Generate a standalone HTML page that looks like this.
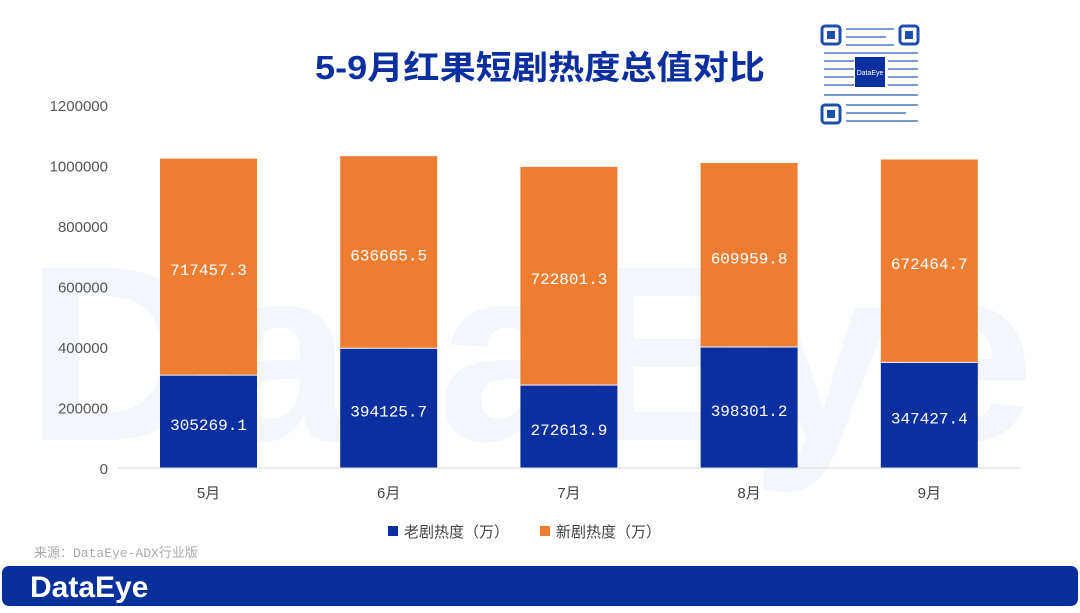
<!DOCTYPE html>
<html><head><meta charset="utf-8"><style>
body{margin:0;width:1080px;height:608px;background:#fff;overflow:hidden;font-family:"Liberation Sans","Noto Sans CJK SC",sans-serif;}
</style></head><body>
<svg id="chart" width="1080" height="608" xmlns="http://www.w3.org/2000/svg">
<text x="530" y="440" text-anchor="middle" font-size="250" font-weight="bold" fill="#f3f6fb" font-family="Liberation Sans, sans-serif" textLength="1010" lengthAdjust="spacingAndGlyphs">DataEye</text>
<text x="540" y="79" text-anchor="middle" font-size="33" font-weight="bold" fill="#0b2f9e" font-family="Liberation Sans, Noto Sans CJK SC, sans-serif" textLength="450" lengthAdjust="spacingAndGlyphs">5-9月红果短剧热度总值对比</text>
<g>
<rect x="819" y="23" width="102" height="103" fill="#fff"/>
<rect x="822" y="26" width="18" height="18" fill="none" stroke="#1e4fa8" stroke-width="3" rx="3"/><rect x="827" y="31" width="8" height="8" fill="#1e4fa8"/>
<rect x="900" y="26" width="18" height="18" fill="none" stroke="#1e4fa8" stroke-width="3" rx="3"/><rect x="905" y="31" width="8" height="8" fill="#1e4fa8"/>
<rect x="822" y="105" width="18" height="18" fill="none" stroke="#1e4fa8" stroke-width="3" rx="3"/><rect x="827" y="110" width="8" height="8" fill="#1e4fa8"/>
<g fill="#5a7ec2" opacity="0.8">
<rect x="846" y="28" width="48" height="2"/><rect x="846" y="36" width="40" height="2"/><rect x="846" y="44" width="48" height="2"/>
<rect x="824" y="52" width="94" height="2"/><rect x="824" y="60" width="30" height="2"/><rect x="888" y="60" width="30" height="2"/>
<rect x="824" y="68" width="30" height="2"/><rect x="888" y="68" width="30" height="2"/><rect x="824" y="76" width="30" height="2"/><rect x="888" y="76" width="30" height="2"/>
<rect x="824" y="84" width="30" height="2"/><rect x="888" y="84" width="30" height="2"/><rect x="824" y="94" width="94" height="2"/>
<rect x="846" y="104" width="72" height="2"/><rect x="846" y="112" width="60" height="2"/><rect x="846" y="120" width="72" height="2"/>
</g>
<rect x="855" y="57" width="30" height="30" fill="#0b2f9e"/>
<text x="870" y="75" text-anchor="middle" font-size="7" fill="#fff">DataEye</text>
</g>
<g id="yaxis"></g>
<g id="bars"></g>
<g id="xaxis"></g>
<g>
<g><rect x="388" y="526" width="10" height="10" fill="#0b2f9e"/><text x="404" y="537" font-size="15" fill="#444">老剧热度（万）</text></g>
<g><rect x="540" y="526" width="10" height="10" fill="#ed7d31"/><text x="556" y="537" font-size="15" fill="#444">新剧热度（万）</text></g>
</g>
<text x="34" y="557" font-size="13" fill="#aaa" font-family="Liberation Mono, Noto Sans CJK SC, monospace">来源：DataEye-ADX行业版</text>
<rect x="2" y="566" width="1076" height="40" rx="7" fill="#07309a"/>
<text x="30" y="597" font-size="30" font-weight="bold" fill="#fff">DataEye</text>
</svg>
<script>
const categories=["5月","6月","7月","8月","9月"];
const oldVals=[305269.1,394125.7,272613.9,398301.2,347427.4];
const newVals=[717457.3,636665.5,722801.3,609959.8,672464.7];
const yTicks=[0,200000,400000,600000,800000,1000000,1200000];
const NS="http://www.w3.org/2000/svg";
const y0=468,yTop=105,yMax=1200000;
function y(v){return y0-(v/yMax)*(y0-yTop);}
function xc(i){return 208.5+i*180.2;}
const bw=97;
function mk(tag,attrs,parent){const e=document.createElementNS(NS,tag);for(const k in attrs)e.setAttribute(k,attrs[k]);parent.appendChild(e);return e;}
const ya=document.getElementById('yaxis'),bg=document.getElementById('bars'),xa=document.getElementById('xaxis');
yTicks.forEach(t=>{const l=mk('text',{x:108,y:y(t)+6,'text-anchor':'end','font-size':15,fill:'#555'},ya);l.textContent=t;

});
mk('line',{x1:118,x2:1020,y1:y0,y2:y0,stroke:'#d9d9d9'},xa);
categories.forEach((c,i)=>{
 const x=xc(i)-bw/2;
 const r1=mk('rect',{x:x,y:y(oldVals[i]),width:bw,height:y0-y(oldVals[i]),fill:'#0b2f9e'},bg);
 
 
 const top=oldVals[i]+newVals[i];
 const r2=mk('rect',{x:x,y:y(top),width:bw,height:y(oldVals[i])-y(top)-1,fill:'#ed7d31'},bg);
 
 
 const t1=mk('text',{x:xc(i),y:(y(oldVals[i])+y0)/2+8,'text-anchor':'middle','font-size':16,fill:'#fff','font-family':'Liberation Mono, monospace'},bg);t1.textContent=oldVals[i].toFixed(1);
 
 
 const t2=mk('text',{x:xc(i),y:(y(top)+y(oldVals[i]))/2+8,'text-anchor':'middle','font-size':16,fill:'#fff','font-family':'Liberation Mono, monospace'},bg);t2.textContent=newVals[i].toFixed(1);
 
 
 const xl=mk('text',{x:xc(i),y:498,'text-anchor':'middle','font-size':15,fill:'#444'},xa);xl.textContent=c;
 
 
});
</script>
</body></html>
